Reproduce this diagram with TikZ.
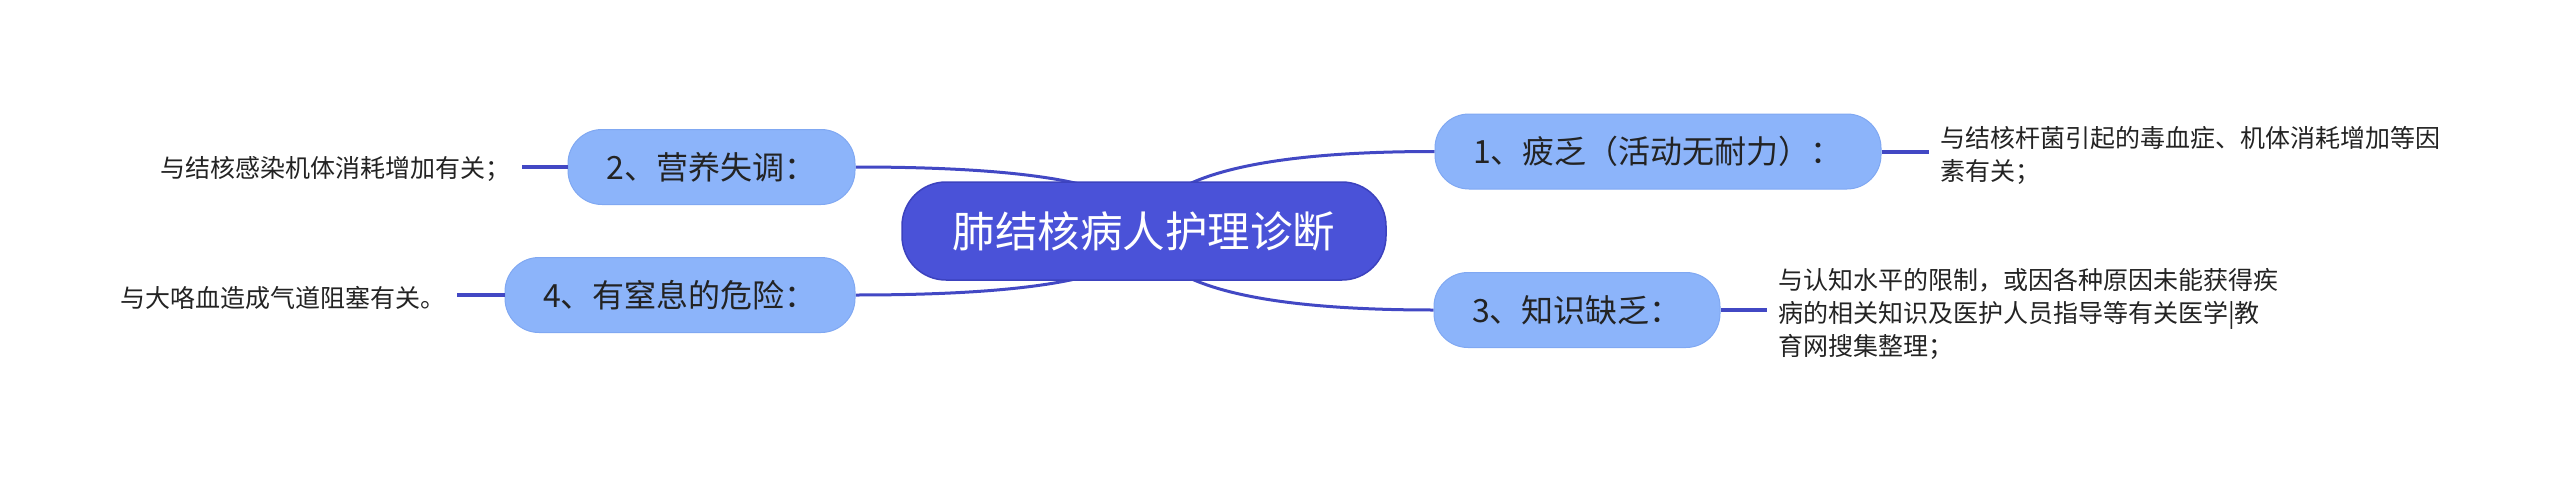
\documentclass[tikz,border=0pt]{standalone}
\usepackage{fontspec}
\newfontfamily\cjk{Noto Sans CJK SC}
\definecolor{rootfill}{RGB}{74,82,216}
\definecolor{rootline}{RGB}{60,66,190}
\definecolor{edgecol}{RGB}{66,72,196}
\definecolor{subfill}{RGB}{140,180,250}
\definecolor{subline}{RGB}{128,168,242}
\definecolor{txt}{RGB}{35,35,35}
\pgfdeclarelayer{background}
\pgfsetlayers{background,main}
\tikzset{
  rootbox/.style={draw=rootline, line width=1.5pt, fill=rootfill, rounded corners=44pt,
    minimum height=98pt, inner sep=0pt, text=white,
    font=\cjk\fontsize{42.5}{48}\selectfont},
  subbox/.style={draw=subline, line width=1pt, fill=subfill, rounded corners=34pt,
    minimum height=75pt, inner sep=0pt, text=txt,
    font=\cjk\fontsize{32}{38}\selectfont},
  leafbox/.style={inner xsep=11pt, inner ysep=0pt, text=txt, align=left,
    font=\cjk\fontsize{25}{33}\selectfont},
  branch/.style={draw=edgecol, line width=3pt},
  twig/.style={draw=edgecol, line width=4pt},
}
\begin{document}
\begin{tikzpicture}[x=1pt,y=-1pt]
\useasboundingbox (0,0) rectangle (2560,479);
\node[rootbox, minimum width=484pt] (root) at (1144,231) {肺结核病人护理诊断};
\node[subbox, minimum width=446pt] (n1) at (1658,151.5) {1、疲乏（活动无耐力）：};
\node[subbox, minimum width=287pt] (n2) at (711.5,167) {2、营养失调：};
\node[subbox, minimum width=286pt] (n3) at (1577,310) {3、知识缺乏：};
\node[subbox, minimum width=350pt] (n4) at (680,295) {4、有窒息的危险：};
\node[leafbox, anchor=west] (l1) at (1929,155) {与结核杆菌引起的毒血症、机体消耗增加等因\\素有关；};
\node[leafbox, anchor=east] (l2) at (522,169) {与结核感染机体消耗增加有关；};
\node[leafbox, anchor=west] (l3) at (1767,314) {与认知水平的限制，或因各种原因未能获得疾\\病的相关知识及医护人员指导等有关医学|教\\育网搜集整理；};
\node[leafbox, anchor=east] (l4) at (457,298) {与大咯血造成气道阻塞有关。};
\begin{pgfonlayer}{background}
\draw[branch] (root.center) .. controls +(10.7,-53) and +(-183,0) .. (n1.west);
\draw[branch] (root.center) .. controls +(10.7,52.7) and +(-182.7,0) .. (n3.west);
\draw[branch] (root.center) .. controls +(4,-42.7) and +(196.7,0) .. (n2.east);
\draw[branch] (root.center) .. controls +(4,42.7) and +(196.7,0) .. (n4.east);
\end{pgfonlayer}
\draw[twig] (n1.east) -- (n1.east -| l1.west);
\draw[twig] (n3.east) -- (n3.east -| l3.west);
\draw[twig] (n2.west) -- (n2.west -| l2.east);
\draw[twig] (n4.west) -- (n4.west -| l4.east);
\end{tikzpicture}
\end{document}
